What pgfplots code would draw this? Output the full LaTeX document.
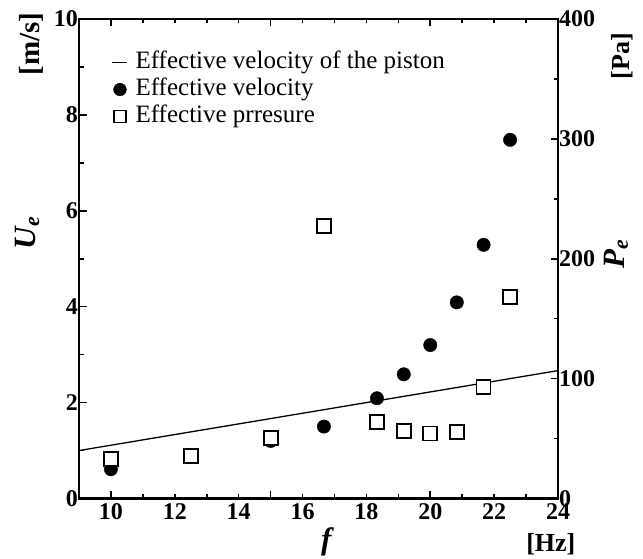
\documentclass[border=0pt]{standalone}
\usepackage{fontspec}
\setmainfont{Liberation Serif}
\usepackage{pgfplots}
\pgfplotsset{compat=1.18}
\begin{document}
\begin{tikzpicture}
\pgfplotsset{
  every axis/.append style={
    scale only axis, width=479pt, height=479.5pt,
    xmin=9, xmax=24,
    axis line style={line width=2.4pt},
    every tick/.style={line width=1.6pt, black},
    tick align=inside,
    major tick length=7.5pt, minor tick length=4.5pt,
    /pgf/number format/assume math mode=true,
    ticklabel style={font=\fontsize{24}{24}\bfseries\selectfont},
    clip=false,
  }
}
\begin{axis}[name=ax, ymin=0, ymax=10,
  xtick={10,15,20}, xticklabels={},
  minor xtick={9,11,12,13,14,16,17,18,19,21,22,23,24},
  extra x ticks={10,12,...,24},
  extra x tick style={major tick style={draw=none}},
  xticklabel style={yshift=-2pt},
  xtick pos=both, ytick pos=left,
  ytick={0,2,...,10}, minor ytick={1,3,...,9},
  yticklabel style={inner sep=1pt},
  legend cell align=left,
  legend style={draw=none, fill=none, at={(rel axis cs:0.062,0.942)}, anchor=north west,
    font=\fontsize{25}{25}\selectfont, row sep=0pt, column sep=5pt,
    nodes={inner sep=2.5pt, text height=17pt, text depth=5pt}},
  ]
  % effective velocity of the piston
  \addplot[black, line width=1.3pt,
    legend image code/.code={\draw[line width=1.2pt] (0pt,0pt) -- (15pt,0pt);}]
    coordinates {(9,1.0) (24,2.667)};
  \addlegendentry{Effective velocity of the piston}
  % effective velocity
  \addplot[only marks, mark=*, mark size=6.7pt, black,
    legend image code/.code={\fill[black] (7.5pt,0pt) circle (6.4pt);}]
    coordinates {(10,0.61) (15,1.2) (16.67,1.50) (18.33,2.09) (19.17,2.59)
                 (20,3.20) (20.83,4.09) (21.67,5.29) (22.5,7.48)};
  \addlegendentry{Effective velocity}
  \addlegendimage{legend image code/.code={\draw[line width=1.1pt, fill=white] (1.5pt,-6pt) rectangle (13.5pt,6pt);}}
  \addlegendentry{Effective prresure}
\end{axis}
\begin{axis}[ymin=0, ymax=400,
  axis x line=none, axis y line*=right,
  ytick={0,100,...,400}, minor ytick={50,150,...,350},
  yticklabel style={inner sep=1pt},
  ]
  \addplot[only marks, mark=square*, mark size=7pt, black, line width=1.8pt,
    mark options={fill=white}]
    coordinates {(10,32.7) (12.5,35.4) (15,50.2) (16.67,227) (18.33,64)
                 (19.17,56.5) (20,54.3) (20.83,55.7) (21.67,92.7) (22.5,168)};
  \node[rotate=90] at (rel axis cs:-0.108,0.554) {\fontsize{31}{31}\bfseries\itshape U\textsubscript{e}};
  \node[rotate=90] at (rel axis cs:-0.1,0.948) {\fontsize{29}{29}\bfseries [m/s]};
  \node[rotate=90] at (rel axis cs:1.121,0.51) {\fontsize{31}{31}\bfseries\itshape P\textsubscript{e}};
  \node[rotate=90] at (rel axis cs:1.134,0.923) {\fontsize{26}{26}\bfseries [Pa]};
  \node at (rel axis cs:0.985,-0.095) {\fontsize{26}{26}\bfseries [Hz]};
  \node at (rel axis cs:0.516,-0.09) {\fontsize{31}{31}\bfseries\itshape f};
\end{axis}
\pgfresetboundingbox
\path (ax.south west) ++(-79pt,-60.5pt) rectangle ++(643pt,559pt);
\end{tikzpicture}
\end{document}
